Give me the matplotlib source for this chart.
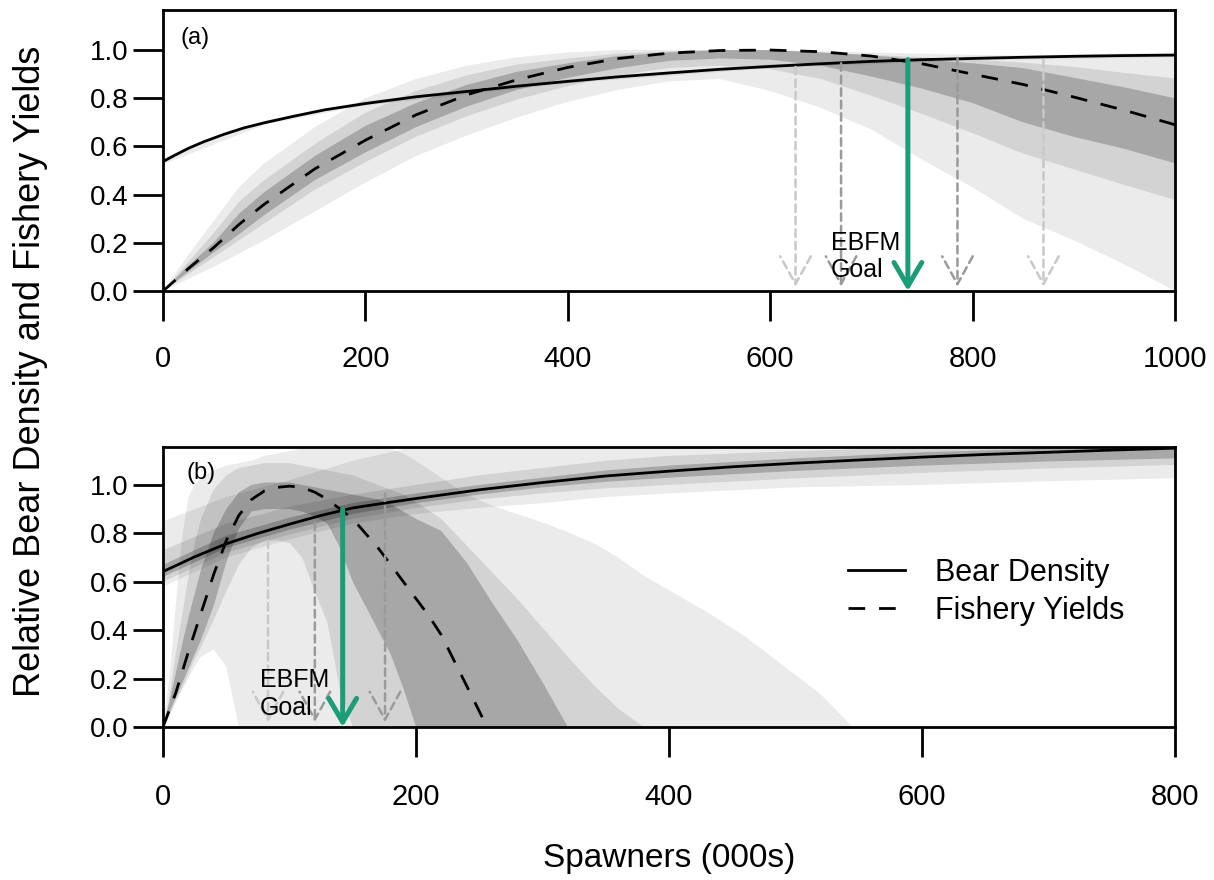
import matplotlib
matplotlib.use('Agg')
import matplotlib.pyplot as plt

plt.rcParams['font.family'] = ['Liberation Sans', 'DejaVu Sans']

# ---- panel (a) ----
xa = [0, 25, 50, 75, 100, 150, 200, 250, 300, 350, 400, 450, 500, 550, 600, 650, 700, 750, 800, 850, 900, 950, 1000]
yield_a = [0, 0.093, 0.18, 0.276, 0.36, 0.507, 0.626, 0.731, 0.814, 0.877, 0.928, 0.965, 0.987, 0.998, 1.0,
           0.993, 0.975, 0.943, 0.9, 0.857, 0.805, 0.75, 0.69]
ya_light_hi = [0, 0.15, 0.29, 0.43, 0.53, 0.68, 0.80, 0.88, 0.935, 0.97, 0.99, 1.0, 1.0, 1.0, 1.0, 0.995, 0.99,
               0.985, 0.98, 0.976, 0.974, 0.973, 0.972]
ya_med_hi = [0, 0.12, 0.24, 0.37, 0.46, 0.61, 0.74, 0.83, 0.895, 0.94, 0.965, 0.985, 0.995, 1.0, 1.0, 0.99, 0.98,
             0.97, 0.96, 0.948, 0.93, 0.905, 0.882]
ya_dark_hi = [0, 0.105, 0.2, 0.32, 0.41, 0.56, 0.685, 0.78, 0.855, 0.91, 0.945, 0.975, 0.99, 1.0, 1.0, 0.99, 0.978,
              0.96, 0.945, 0.925, 0.885, 0.845, 0.80]
ya_dark_lo = [0, 0.08, 0.16, 0.235, 0.315, 0.46, 0.575, 0.68, 0.765, 0.835, 0.885, 0.925, 0.955, 0.965, 0.96,
              0.935, 0.89, 0.84, 0.78, 0.70, 0.64, 0.59, 0.53]
ya_med_lo = [0, 0.07, 0.14, 0.21, 0.28, 0.42, 0.535, 0.64, 0.725, 0.795, 0.85, 0.895, 0.925, 0.935, 0.92, 0.88,
             0.81, 0.735, 0.655, 0.57, 0.505, 0.44, 0.378]
ya_light_lo = [0, 0.05, 0.10, 0.155, 0.21, 0.33, 0.45, 0.56, 0.645, 0.72, 0.785, 0.835, 0.87, 0.88, 0.83, 0.76,
               0.67, 0.545, 0.43, 0.30, 0.21, 0.11, 0.0]

xa_bear = [0, 10, 25, 40, 60, 80, 100, 130, 160, 200, 250, 300, 350, 400, 450, 500, 550, 600, 650, 700, 750,
           800, 850, 900, 950, 1000]
bear_a = [0.537, 0.56, 0.592, 0.619, 0.65, 0.677, 0.698, 0.726, 0.752, 0.778, 0.806, 0.828, 0.85, 0.87, 0.889,
          0.905, 0.92, 0.932, 0.943, 0.953, 0.96, 0.965, 0.97, 0.974, 0.977, 0.979]
xa_bear_band = [0, 100, 200, 400, 600, 800, 1000]
ba_lo = [0.525, 0.69, 0.77, 0.862, 0.925, 0.958, 0.97]
ba_hi = [0.55, 0.707, 0.788, 0.878, 0.94, 0.973, 0.99]

goal_a = 736
goal_a_top = 0.96
dots_a = [625, 670, 785, 870]
dots_a_top = [0.93, 0.945, 0.965, 0.96]
dots_a_col = ['#c8c8c8', '#9a9a9a', '#9a9a9a', '#c8c8c8']

# ---- panel (b) ----
xb_d = [0, 10, 20, 30, 40, 50, 60, 70, 80, 90, 100, 110, 120, 130, 140, 150, 160, 170, 180, 190, 200, 210, 220,
        230, 240, 250, 256]
yield_b = [0, 0.14, 0.31, 0.47, 0.63, 0.77, 0.875, 0.94, 0.975, 0.99, 0.995, 0.99, 0.97, 0.94, 0.90, 0.86, 0.80,
           0.74, 0.67, 0.60, 0.53, 0.46, 0.38, 0.275, 0.17, 0.065, 0.0]

xb = [0, 5, 10, 15, 20, 25, 30, 40, 50, 60, 70, 80, 90, 100, 110, 120, 130, 140, 150, 160, 170, 180, 190, 200,
      220, 240, 260, 280, 300, 320, 340, 360, 380, 400, 430, 460, 490, 520, 545]
yb_light_hi = [0, 0.2, 0.5, 0.78, 0.95, 1.0, 1.03, 1.06, 1.08, 1.09, 1.10, 1.12, 1.13, 1.14, 1.15, 1.16, 1.17,
               1.17, 1.17, 1.17, 1.16, 1.15, 1.13, 1.10, 1.03, 0.96, 0.915, 0.88, 0.845, 0.805, 0.76, 0.70,
               0.625, 0.565, 0.475, 0.375, 0.255, 0.135, 0.0]
yb_med_hi = [0, 0.12, 0.3, 0.46, 0.62, 0.76, 0.86, 0.98, 1.04, 1.07, 1.08, 1.09, 1.09, 1.09, 1.08, 1.07, 1.06,
             1.05, 1.04, 1.02, 1.0, 0.98, 0.96, 0.93, 0.86, 0.75, 0.64, 0.53, 0.41, 0.29, 0.175, 0.075, 0.0,
             0, 0, 0, 0, 0, 0]
yb_dark_hi = [0, 0.1, 0.22, 0.34, 0.45, 0.55, 0.65, 0.80, 0.90, 0.97, 1.0, 1.01, 1.01, 1.01, 1.0, 0.99, 0.98,
              0.97, 0.96, 0.95, 0.94, 0.92, 0.89, 0.86, 0.81, 0.68, 0.515, 0.36, 0.185, 0.0,
              0, 0, 0, 0, 0, 0, 0, 0, 0]
yb_dark_lo = [0, 0.06, 0.12, 0.18, 0.24, 0.3, 0.36, 0.5, 0.68, 0.82, 0.89, 0.9, 0.9, 0.9, 0.89, 0.87, 0.84,
              0.74, 0.6, 0.5, 0.4, 0.3, 0.16, 0.0,
              0, 0, 0, 0, 0, 0, 0, 0, 0, 0, 0, 0, 0, 0, 0]
yb_med_lo = [0, 0.05, 0.11, 0.16, 0.22, 0.28, 0.33, 0.44, 0.56, 0.67, 0.74, 0.77, 0.77, 0.76, 0.7, 0.56, 0.43,
             0.15, 0.0,
             0, 0, 0, 0, 0, 0, 0, 0, 0, 0, 0, 0, 0, 0, 0, 0, 0, 0, 0, 0]
yb_light_lo = [0, 0.04, 0.1, 0.15, 0.2, 0.25, 0.29, 0.32, 0.25, 0.0,
               0, 0, 0, 0, 0, 0, 0, 0, 0, 0, 0, 0, 0, 0, 0, 0, 0, 0, 0, 0, 0, 0, 0, 0, 0, 0, 0, 0, 0]

xb_bear = [0, 25, 50, 75, 100, 125, 150, 175, 200, 250, 300, 350, 400, 450, 500, 550, 600, 650, 700, 750, 800]
bear_b = [0.642, 0.703, 0.757, 0.800, 0.838, 0.874, 0.905, 0.925, 0.944, 0.98, 1.01, 1.037, 1.057, 1.075, 1.09,
          1.103, 1.115, 1.126, 1.135, 1.144, 1.152]
xb_bb = [0, 50, 100, 150, 200, 250, 300, 350, 400, 500, 600, 700, 800]
bb_light_hi = [0.85, 0.95, 1.02, 1.1, 1.16, 1.17, 1.18, 1.19, 1.2, 1.21, 1.22, 1.23, 1.24]
bb_med_hi = [0.73, 0.84, 0.91, 0.96, 1.0, 1.04, 1.07, 1.1, 1.12, 1.14, 1.155, 1.17, 1.18]
bb_dark_hi = [0.67, 0.79, 0.865, 0.925, 0.965, 1.0, 1.03, 1.06, 1.08, 1.11, 1.135, 1.15, 1.165]
bb_dark_lo = [0.62, 0.74, 0.815, 0.88, 0.925, 0.96, 0.99, 1.013, 1.03, 1.058, 1.08, 1.097, 1.11]
bb_med_lo = [0.60, 0.72, 0.795, 0.86, 0.905, 0.94, 0.965, 0.986, 1.0, 1.027, 1.05, 1.068, 1.083]
bb_light_lo = [0.58, 0.70, 0.775, 0.84, 0.88, 0.905, 0.925, 0.95, 0.965, 0.99, 1.0, 1.015, 1.028]

goal_b = 142
goal_b_top = 0.9
dots_b = [83, 120, 175.5]
dots_b_top = [0.77, 0.845, 0.965]
dots_b_col = ['#c8c8c8', '#9a9a9a', '#9a9a9a']

teal = '#1B9E77'


def shade(ax, x, lo, hi, a):
    ax.fill_between(x, lo, hi, facecolor='k', alpha=a, edgecolor='none', lw=0)


def drop(ax, x, top, color, lw, ls, hl, hw, tip):
    ax.annotate('', xy=(x, tip), xytext=(x, top),
                arrowprops=dict(arrowstyle='->,head_length=%g,head_width=%g' % (hl, hw),
                                color=color, lw=lw, ls=ls, shrinkA=0, shrinkB=0,
                                mutation_scale=10))


def style(ax, xmax, ytop, xpad):
    ax.set_xlim(0, xmax)
    ax.set_ylim(0, ytop)
    ax.set_xticks(range(0, xmax + 1, 200))
    ax.set_yticks([0, 0.2, 0.4, 0.6, 0.8, 1.0])
    ax.set_yticklabels(['0.0', '0.2', '0.4', '0.6', '0.8', '1.0'])
    for s in ax.spines.values():
        s.set_linewidth(2)
    ax.tick_params(axis='both', direction='out', length=21.6, width=2)
    ax.tick_params(axis='x', labelsize=21, pad=xpad)
    ax.tick_params(axis='y', labelsize=20, pad=3.6)


fig = plt.figure(figsize=(12.14, 8.8), dpi=100)
ax1 = fig.add_axes([0.1343, 0.6693, 0.8336, 0.3193])
ax2 = fig.add_axes([0.1343, 0.1739, 0.8336, 0.3182])

# (a)
shade(ax1, xa, ya_light_lo, ya_light_hi, 0.078)
shade(ax1, xa, ya_med_lo, ya_med_hi, 0.098)
shade(ax1, xa, ya_dark_lo, ya_dark_hi, 0.207)
shade(ax1, xa_bear_band, ba_lo, ba_hi, 0.078)
for x, t, c in zip(dots_a, dots_a_top, dots_a_col):
    drop(ax1, x, t, c, 1.8, (0, (3, 2)), 2.0, 1.1, 0.018)
ax1.plot(xa_bear, bear_a, color='k', lw=2)
ax1.plot(xa, yield_a, color='k', lw=2, dashes=(6, 5))
drop(ax1, goal_a, goal_a_top, teal, 3.6, '-', 1.7, 1.0, 0.0)
ax1.text(660, 0.143, 'EBFM\nGoal', fontsize=18, ha='left', va='center', linespacing=1.2)
ax1.text(0.0168, 0.899, '(a)', transform=ax1.transAxes, fontsize=17, ha='left', va='center')
style(ax1, 1000, 1.166, 17)

# (b)
shade(ax2, xb, yb_light_lo, yb_light_hi, 0.078)
shade(ax2, xb, yb_med_lo, yb_med_hi, 0.098)
shade(ax2, xb, yb_dark_lo, yb_dark_hi, 0.207)
shade(ax2, xb_bb, bb_light_lo, bb_light_hi, 0.078)
shade(ax2, xb_bb, bb_med_lo, bb_med_hi, 0.098)
shade(ax2, xb_bb, bb_dark_lo, bb_dark_hi, 0.207)
for x, t, c in zip(dots_b, dots_b_top, dots_b_col):
    drop(ax2, x, t, c, 1.8, (0, (3, 2)), 2.0, 1.1, 0.02)
l1, = ax2.plot(xb_bear, bear_b, color='k', lw=2, label='Bear Density')
l2, = ax2.plot(xb_d, yield_b, color='k', lw=2, dashes=(6, 5), label='Fishery Yields')
drop(ax2, goal_b, goal_b_top, teal, 3.6, '-', 1.7, 1.0, 0.0)
ax2.text(76.7, 0.136, 'EBFM\nGoal', fontsize=18, ha='left', va='center', linespacing=1.2)
ax2.text(0.0234, 0.906, '(b)', transform=ax2.transAxes, fontsize=17, ha='left', va='center')
ax2.legend(handles=[l1, l2], loc='center left', bbox_to_anchor=(0.677, 0.482), frameon=False,
           fontsize=22, handlelength=1.87, handletextpad=0.98, labelspacing=0.25, borderpad=0,
           borderaxespad=0)
style(ax2, 800, 1.157, 19)

fig.text(0.025, 0.578, 'Relative Bear Density and Fishery Yields', rotation=90, fontsize=26,
         ha='center', va='center')
fig.text(0.551, 0.025, 'Spawners (000s)', fontsize=24, ha='center', va='center')

fig.savefig('out.png', dpi=100)
